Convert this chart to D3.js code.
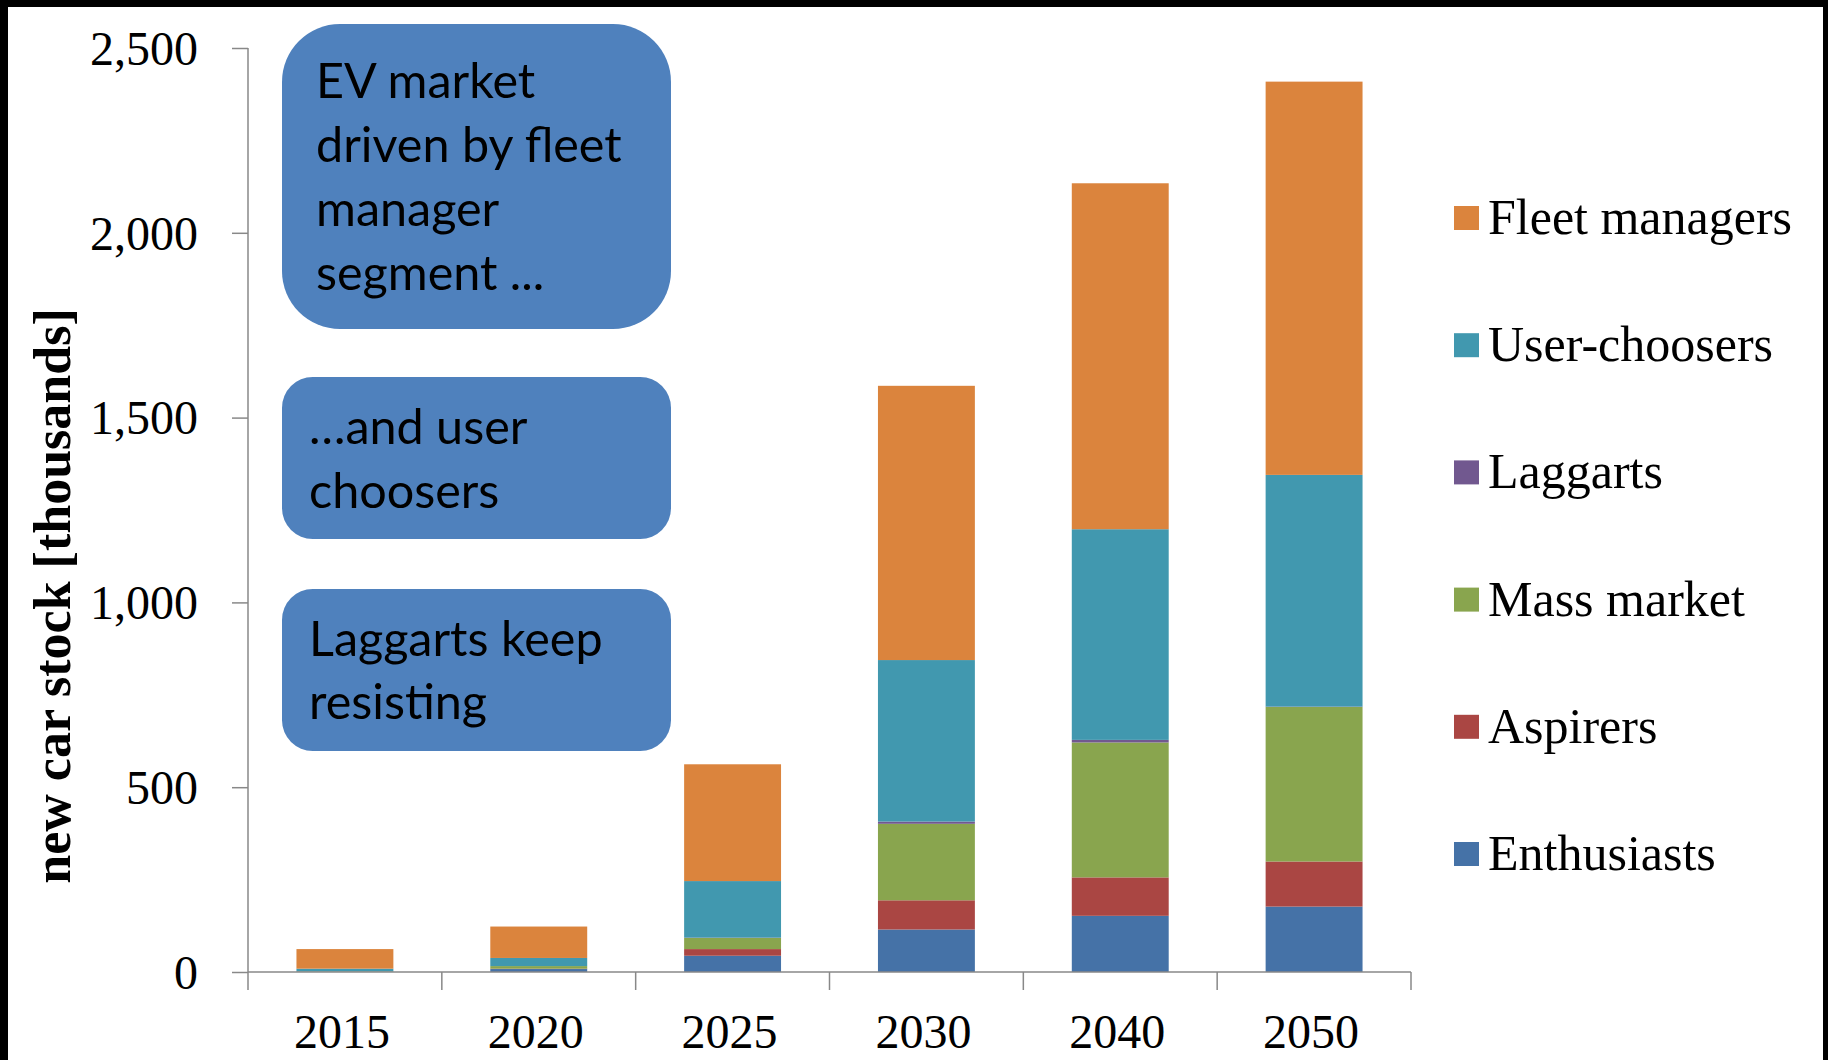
<!DOCTYPE html>
<html>
<head>
<meta charset="utf-8">
<script src="https://cdn.jsdelivr.net/npm/d3@7"></script>
<style>
  body { margin: 0; background: #000; }
  svg { display: block; }
</style>
</head>
<body>
<svg id="chart" width="1828" height="1060"></svg>
<script>
// chart data (thousands of cars)
var years = ["2015", "2020", "2025", "2030", "2040", "2050"];
var segments = ["Enthusiasts", "Aspirers", "Mass market", "Laggarts", "User-choosers", "Fleet managers"];
var enthusiasts   = [1, 8, 44, 115, 152, 177];
var aspirers      = [0, 1, 18, 79, 104, 122];
var massMarket    = [1, 7, 30, 207, 365, 418];
var laggarts      = [0, 0, 1, 6, 7, 1];
var userChoosers  = [7, 22, 153, 437, 570, 627];
var fleetManagers = [53, 85, 316, 742, 936, 1064];
var segColors = ["#4572A7", "#AA4643", "#89A54E", "#71588F", "#4198AF", "#DB843D"];
var yTicks = [0, 500, 1000, 1500, 2000, 2500];
var notes = [
  ["EV market", "driven by fleet", "manager", "segment ..."],
  ["\u2026and user", "choosers"],
  ["Laggarts keep", "resisting"]
];

var seriesVals = [enthusiasts, aspirers, massMarket, laggarts, userChoosers, fleetManagers];

// build rows for d3.stack
var rows = years.map(function(y, i) {
  var r = { year: y };
  segments.forEach(function(s, k) { r[s] = seriesVals[k][i]; });
  return r;
});

var svg = d3.select("#chart");
var serif = "'Liberation Serif', 'Times New Roman', serif";

// white page inside the black frame
svg.append("rect").attr("x", 8).attr("y", 7).attr("width", 1815).attr("height", 1053).attr("fill", "#fff");

var x0 = 248, x1 = 1411, yTop = 48, yBot = 972;

var x = d3.scaleBand().domain(years).range([x0, x1]).paddingInner(0.5).paddingOuter(0.25);
var y = d3.scaleLinear().domain([0, 2500]).range([yBot, yTop]);
var color = d3.scaleOrdinal().domain(segments).range(segColors);

var stack = d3.stack().keys(segments);
var layers = stack(rows);

var g = svg.append("g");
g.selectAll(".layer")
  .data(layers)
  .enter().append("g")
    .attr("class", "layer")
    .attr("fill", function(d) { return color(d.key); })
  .selectAll("rect")
  .data(function(d) { return d; })
  .enter().append("rect")
    .attr("x", function(d) { return x(d.data.year); })
    .attr("width", x.bandwidth())
    .attr("y", function(d) { return y(d[1]); })
    .attr("height", function(d) { return y(d[0]) - y(d[1]); });

// y axis
var yAxis = d3.axisLeft(y).tickValues(yTicks).tickFormat(d3.format(",")).tickSize(16).tickPadding(34);
var ya = svg.append("g").attr("transform", "translate(" + x0 + ",0)").call(yAxis);
ya.select(".domain").attr("stroke", "#888").attr("stroke-width", 1.5).attr("d", "M0," + yTop + "V" + yBot);
ya.selectAll(".tick line").attr("stroke", "#888").attr("stroke-width", 1.5);
ya.selectAll(".tick text").attr("font-family", serif).attr("font-size", 48).attr("fill", "#000").attr("dy", "0.34em");

// x axis: ticks sit on the category boundaries
var xa = svg.append("g").attr("transform", "translate(0," + yBot + ")");
xa.append("line").attr("x1", x0).attr("x2", x1).attr("stroke", "#888").attr("stroke-width", 1.5);
var bounds = d3.range(years.length + 1).map(function(i) { return x0 + i * (x1 - x0) / years.length; });
xa.selectAll(".xt").data(bounds).enter().append("line")
  .attr("x1", function(d) { return d; }).attr("x2", function(d) { return d; })
  .attr("y1", 0).attr("y2", 18).attr("stroke", "#888").attr("stroke-width", 1.5);
xa.selectAll(".xl").data(years).enter().append("text")
  .attr("x", function(d) { return x(d) + x.bandwidth() / 2 - 3; })
  .attr("y", 76)
  .attr("text-anchor", "middle")
  .attr("font-family", serif).attr("font-size", 48)
  .text(function(d) { return d; });

// y axis title
svg.append("text")
  .attr("transform", "translate(70,596) rotate(-90)")
  .attr("text-anchor", "middle")
  .attr("font-family", serif).attr("font-size", 52).attr("font-weight", "bold")
  .text("new car stock [thousands]");

// legend, top item is the top of the stack
var legend = svg.append("g");
var legItems = segments.slice().reverse();
legItems.forEach(function(s, i) {
  var cy = 218 + i * 127.2;
  legend.append("rect").attr("x", 1454).attr("y", cy - 12).attr("width", 25).attr("height", 24).attr("fill", color(s));
  legend.append("text").attr("x", 1488).attr("y", cy + 16)
    .attr("font-family", serif).attr("font-size", 50).text(s);
});

// annotation boxes
var boxes = [
  { x: 282, y: 24, w: 389, h: 305, tx: 316, lines: notes[0], base: 98, lh: 64 },
  { x: 282, y: 377, w: 389, h: 162, tx: 309, lines: notes[1], base: 444, lh: 64 },
  { x: 282, y: 589, w: 389, h: 162, tx: 309, lines: notes[2], base: 656, lh: 63 }
];
boxes.forEach(function(b) {
  var r = Math.min(b.w, b.h) * 0.19;
  svg.append("rect").attr("x", b.x).attr("y", b.y).attr("width", b.w).attr("height", b.h)
    .attr("rx", r).attr("ry", r).attr("fill", "#4F81BD");
  b.lines.forEach(function(t, i) {
    svg.append("text").attr("x", b.tx).attr("y", b.base + i * b.lh)
      .attr("font-family", "Lato, 'Open Sans', sans-serif").attr("font-size", 48.5)
      .attr("fill", "#000").text(t);
  });
});
</script>
</body>
</html>
